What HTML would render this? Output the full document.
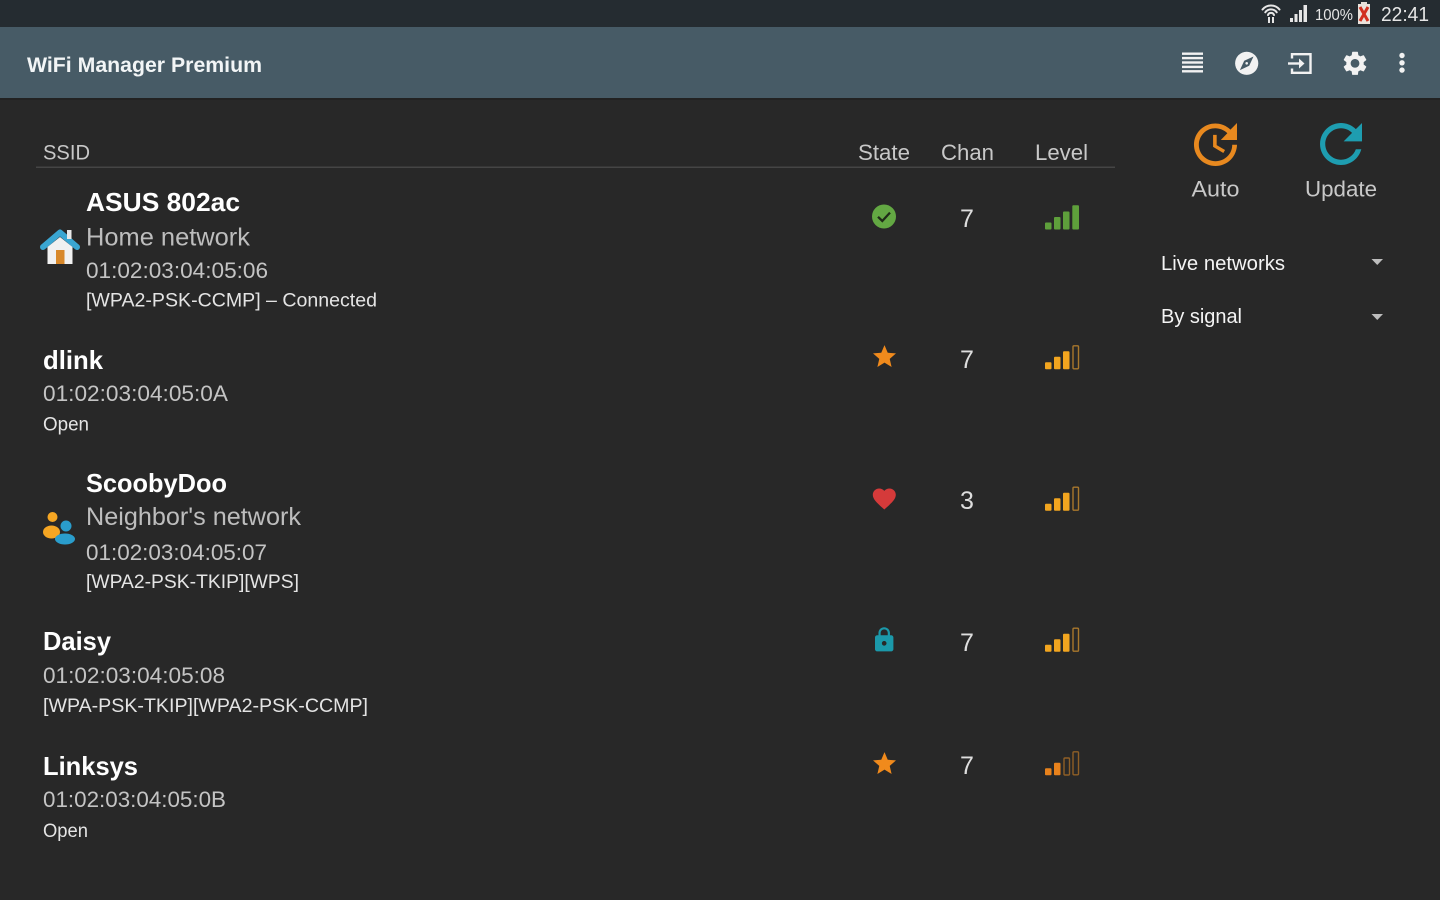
<!DOCTYPE html>
<html><head><meta charset="utf-8"><style>
html,body{margin:0;padding:0;background:#282828;width:1440px;height:900px;overflow:hidden}
svg{display:block}
text{font-family:"Liberation Sans",Arial,sans-serif}
</style></head><body>
<svg width="1440" height="900" viewBox="0 0 1440 900" xmlns="http://www.w3.org/2000/svg">
<rect x="0" y="0" width="1440" height="900" fill="#282828"/>
<!-- status bar -->
<rect x="0" y="0" width="1440" height="27" fill="#252c31"/>
<!-- app bar -->
<rect x="0" y="27" width="1440" height="71" fill="#475b66"/>
<rect x="0" y="98" width="1440" height="2" fill="#222"/>

<!-- status icons -->
<g fill="none" stroke="#e6e6e6" stroke-width="2" stroke-linecap="round">
<path d="M1262.5,9.5 A11,11 0 0 1 1279.5,9.5"/>
<path d="M1265.3,12.3 A7,7 0 0 1 1276.7,12.3"/>
<path d="M1268,15 A3.2,3.2 0 0 1 1274,15"/>
</g>
<rect x="1268" y="17" width="2" height="6" fill="#e6e6e6"/>
<rect x="1272" y="17" width="2" height="6" fill="#e6e6e6"/>
<g fill="#e6e6e6">
<rect x="1290" y="18" width="3" height="4"/>
<rect x="1294.5" y="14" width="3" height="8"/>
<rect x="1299" y="10" width="3" height="12"/>
<rect x="1303.5" y="5" width="3.5" height="17"/>
</g>
<text x="1315" y="20" font-size="16" fill="#e6e6e6" textLength="38" lengthAdjust="spacingAndGlyphs">100%</text>
<rect x="1361" y="2" width="6" height="2" fill="#e8e0d8"/>
<rect x="1358" y="4" width="12" height="20" fill="#ebe3dc"/>
<path d="M1360,7 L1368,21 M1368,7 L1360,21" stroke="#d2301f" stroke-width="3"/>
<text x="1381" y="21" font-size="20" fill="#e6e6e6" textLength="48" lengthAdjust="spacingAndGlyphs">22:41</text>

<!-- title -->
<text x="27" y="72" font-size="21" font-weight="bold" fill="#f2f5f6" textLength="235" lengthAdjust="spacingAndGlyphs">WiFi Manager Premium</text>

<!-- app bar icons -->
<g fill="#f2f2f2">
<rect x="1182" y="52.5" width="21" height="2.4"/>
<rect x="1182" y="56.9" width="21" height="2.4"/>
<rect x="1182" y="61.3" width="21" height="2.4"/>
<rect x="1182" y="65.7" width="21" height="2.4"/>
<rect x="1182" y="70.1" width="21" height="2.4"/>
</g>
<circle cx="1246.7" cy="63.3" r="11.6" fill="#f2f2f2"/>
<polygon points="1253.5,56.5 1249.2,65.8 1239.9,70.1 1244.2,60.8" fill="#475b66"/>
<circle cx="1246.7" cy="63.3" r="1.3" fill="#f2f2f2"/>
<g fill="none" stroke="#f2f2f2" stroke-width="2.4">
<path d="M1292,58.5 V54.2 H1310.5 V72.8 H1292 V68.5"/>
<path d="M1288,63.5 H1302"/>
</g>
<polygon points="1299,58.5 1304.5,63.5 1299,68.5" fill="#f2f2f2"/>
<path transform="translate(1340.5,48.8) scale(1.21)" fill="#f2f2f2" fill-rule="evenodd" d="M19.14 12.94c.04-.3.06-.61.06-.94 0-.32-.02-.64-.07-.94l2.03-1.58c.18-.14.23-.41.12-.61l-1.92-3.32c-.12-.22-.37-.29-.59-.22l-2.39.96c-.5-.38-1.03-.7-1.62-.94l-.36-2.54c-.04-.24-.24-.41-.48-.41h-3.84c-.24 0-.43.17-.47.41l-.36 2.54c-.59.24-1.130.57-1.62.94l-2.39-.96c-.22-.08-.47 0-.59.22L2.74 8.87c-.12.21-.08.47.12.61l2.03 1.58c-.05.3-.09.63-.09.94s.02.64.07.94l-2.030 1.58c-.18.14-.23.41-.12.61l1.92 3.32c.12.22.37.29.59.22l2.39-.96c.5.38 1.03.7 1.62.94l.36 2.54c.05.24.24.41.48.41h3.84c.24 0 .44-.17.47-.41l.36-2.54c.59-.24 1.13-.56 1.62-.94l2.39.96c.22.08.47 0 .59-.22l1.92-3.32c.12-.22.07-.47-.12-.61l-2.01-1.58zM12 15.6c-1.98 0-3.6-1.62-3.6-3.6s1.62-3.6 3.6-3.6 3.6 1.62 3.6 3.6-1.62 3.6-3.6 3.6z"/>
<circle cx="1402" cy="55.5" r="2.7" fill="#f2f2f2"/>
<circle cx="1402" cy="62.8" r="2.7" fill="#f2f2f2"/>
<circle cx="1402" cy="70.1" r="2.7" fill="#f2f2f2"/>

<!-- headers -->
<text x="43" y="159.5" font-size="21" fill="#c8c8c8" textLength="47" lengthAdjust="spacingAndGlyphs">SSID</text>
<text x="858" y="160" font-size="22" fill="#c8c8c8" textLength="52" lengthAdjust="spacingAndGlyphs">State</text>
<text x="941" y="160" font-size="22" fill="#c8c8c8" textLength="53" lengthAdjust="spacingAndGlyphs">Chan</text>
<text x="1035" y="160" font-size="22" fill="#c8c8c8" textLength="53" lengthAdjust="spacingAndGlyphs">Level</text>
<rect x="36" y="166.5" width="1079" height="1.5" fill="#454545"/>

<!-- Row 1 -->
<path d="M43,247 L60,232.5 L77,247" fill="none" stroke="#3aa6d2" stroke-width="6" stroke-linejoin="round" stroke-linecap="round"/>
<rect x="67" y="230" width="4.5" height="9" fill="#e8e8e8"/>
<polygon points="47.5,247 60,237 72.5,247 72.5,264 47.5,264" fill="#f1f1f1"/>
<rect x="56" y="250" width="8.5" height="14" fill="#d8882a"/>
<text x="86" y="211" font-size="26" font-weight="bold" fill="#ffffff" textLength="154" lengthAdjust="spacingAndGlyphs">ASUS 802ac</text>
<text x="86" y="245.5" font-size="25" fill="#bdbdbd" textLength="164" lengthAdjust="spacingAndGlyphs">Home network</text>
<text x="86" y="278" font-size="22.5" fill="#c4c4c4" textLength="182" lengthAdjust="spacingAndGlyphs">01:02:03:04:05:06</text>
<text x="86" y="306.5" font-size="19.5" fill="#e4e4e4" textLength="291" lengthAdjust="spacingAndGlyphs">[WPA2-PSK-CCMP] – Connected</text>
<circle cx="884" cy="216.5" r="12" fill="#63a843"/>
<polyline points="878,216.8 882.3,221 890,212.6" fill="none" stroke="#1f2c18" stroke-width="2.3"/>
<text x="967" y="227" font-size="25" fill="#dedede" text-anchor="middle">7</text>
<g fill="#5e9f3b">
<rect x="1045" y="222.5" width="6.5" height="7" rx="1"/>
<rect x="1054" y="217" width="6.5" height="12.5" rx="1"/>
<rect x="1063" y="211.5" width="6.5" height="18" rx="1"/>
<rect x="1072.3" y="205.3" width="6.7" height="24.2" rx="1"/>
</g>

<!-- Row 2 -->
<text x="43" y="369" font-size="26" font-weight="bold" fill="#ffffff" textLength="60" lengthAdjust="spacingAndGlyphs">dlink</text>
<text x="43" y="401" font-size="22.5" fill="#c4c4c4" textLength="185" lengthAdjust="spacingAndGlyphs">01:02:03:04:05:0A</text>
<text x="43" y="430.5" font-size="19.5" fill="#e4e4e4" textLength="46" lengthAdjust="spacingAndGlyphs">Open</text>
<path transform="translate(870.7,342.8) scale(1.15)" fill="#f08a1c" d="M12 17.27L18.18 21l-1.64-7.03L22 9.24l-7.19-.61L12 2 9.19 8.630 2 9.24l5.46 4.73L5.82 21z"/>
<text x="967" y="368" font-size="25" fill="#dedede" text-anchor="middle">7</text>
<g fill="#f2a51f">
<rect x="1045" y="362.3" width="6.5" height="7" rx="1"/>
<rect x="1054" y="356.8" width="6.5" height="12.5" rx="1"/>
<rect x="1063" y="351.3" width="6.5" height="18" rx="1"/>
</g>
<rect x="1073" y="345.8" width="5.5" height="23" rx="1" fill="none" stroke="#a8772c" stroke-width="1.4"/>

<!-- Row 3 -->
<circle cx="52.5" cy="517" r="5" fill="#f5a623"/>
<ellipse cx="51.5" cy="532" rx="8.5" ry="6.5" fill="#f5a623"/>
<circle cx="66" cy="526" r="5.5" fill="#2a9dcc"/>
<ellipse cx="65" cy="539" rx="10" ry="5.5" fill="#2a9dcc"/>
<text x="86" y="492" font-size="26" font-weight="bold" fill="#ffffff" textLength="141" lengthAdjust="spacingAndGlyphs">ScoobyDoo</text>
<text x="86" y="525" font-size="25" fill="#bdbdbd" textLength="215" lengthAdjust="spacingAndGlyphs">Neighbor's network</text>
<text x="86" y="560" font-size="22.5" fill="#c4c4c4" textLength="181" lengthAdjust="spacingAndGlyphs">01:02:03:04:05:07</text>
<text x="86" y="588" font-size="19.5" fill="#e4e4e4" textLength="213" lengthAdjust="spacingAndGlyphs">[WPA2-PSK-TKIP][WPS]</text>
<path transform="translate(870.5,485) scale(1.15)" fill="#d53a3a" d="M12 21.35l-1.45-1.32C5.4 15.36 2 12.28 2 8.5 2 5.42 4.42 3 7.5 3c1.74 0 3.41.81 4.5 2.090C13.09 3.81 14.76 3 16.5 3 19.58 3 22 5.42 22 8.5c0 3.78-3.4 6.86-8.55 11.54L12 21.35z"/>
<text x="967" y="509" font-size="25" fill="#dedede" text-anchor="middle">3</text>
<g fill="#f2a51f">
<rect x="1045" y="503.7" width="6.5" height="7" rx="1"/>
<rect x="1054" y="498.2" width="6.5" height="12.5" rx="1"/>
<rect x="1063" y="492.7" width="6.5" height="18" rx="1"/>
</g>
<rect x="1073" y="487.2" width="5.5" height="23" rx="1" fill="none" stroke="#a8772c" stroke-width="1.4"/>

<!-- Row 4 -->
<text x="43" y="650" font-size="26" font-weight="bold" fill="#ffffff" textLength="68" lengthAdjust="spacingAndGlyphs">Daisy</text>
<text x="43" y="683" font-size="22.5" fill="#c4c4c4" textLength="182" lengthAdjust="spacingAndGlyphs">01:02:03:04:05:08</text>
<text x="43" y="712" font-size="19.5" fill="#e4e4e4" textLength="325" lengthAdjust="spacingAndGlyphs">[WPA-PSK-TKIP][WPA2-PSK-CCMP]</text>
<path transform="translate(870.4,626.1) scale(1.15)" fill="#1b99aa" fill-rule="evenodd" d="M18 8h-1V6c0-2.76-2.24-5-5-5S7 3.24 7 6v2H6c-1.1 0-2 .9-2 2v10c0 1.1.9 2 2 2h12c1.1 0 2-.9 2-2V10c0-1.1-.9-2-2-2zm-6 9c-1.1 0-2-.9-2-2s.9-2 2-2 2 .9 2 2-.9 2-2 2zm3.1-9H8.9V6c0-1.71 1.39-3.1 3.1-3.1 1.71 0 3.1 1.39 3.1 3.1v2z"/>
<text x="967" y="651" font-size="25" fill="#dedede" text-anchor="middle">7</text>
<g fill="#f2a51f">
<rect x="1045" y="644.7" width="6.5" height="7" rx="1"/>
<rect x="1054" y="639.2" width="6.5" height="12.5" rx="1"/>
<rect x="1063" y="633.7" width="6.5" height="18" rx="1"/>
</g>
<rect x="1073" y="628.2" width="5.5" height="23" rx="1" fill="none" stroke="#a8772c" stroke-width="1.4"/>

<!-- Row 5 -->
<text x="43" y="775" font-size="26" font-weight="bold" fill="#ffffff" textLength="95" lengthAdjust="spacingAndGlyphs">Linksys</text>
<text x="43" y="807" font-size="22.5" fill="#c4c4c4" textLength="183" lengthAdjust="spacingAndGlyphs">01:02:03:04:05:0B</text>
<text x="43" y="837" font-size="19.5" fill="#e4e4e4" textLength="45" lengthAdjust="spacingAndGlyphs">Open</text>
<path transform="translate(870.7,749.8) scale(1.15)" fill="#f08a1c" d="M12 17.27L18.18 21l-1.64-7.03L22 9.24l-7.19-.61L12 2 9.19 8.63 2 9.24l5.46 4.73L5.82 21z"/>
<text x="967" y="774" font-size="25" fill="#dedede" text-anchor="middle">7</text>
<g fill="#e8821c">
<rect x="1045" y="768.3" width="6.5" height="7" rx="1"/>
<rect x="1054" y="762.8" width="6.5" height="12.5" rx="1"/>
</g>
<rect x="1064" y="758" width="5.5" height="17" rx="1" fill="none" stroke="#8f5f26" stroke-width="1.4"/>
<rect x="1073" y="751.8" width="5.5" height="23" rx="1" fill="none" stroke="#8f5f26" stroke-width="1.4"/>

<!-- right panel -->
<path transform="translate(1186.8,115.8) scale(2.39)" fill="#e8891f" d="M21 10.12h-6.78l2.74-2.82c-2.73-2.7-7.15-2.8-9.88-.1-2.73 2.71-2.73 7.08 0 9.79s7.15 2.71 9.88 0C18.32 15.65 19 14.08 19 12.1h2c0 1.98-.88 4.55-2.64 6.29-3.51 3.48-9.21 3.48-12.72 0-3.5-3.47-3.53-9.11-.02-12.58s9.14-3.47 12.65 0L21 3v7.12zM12.5 8v4.25l3.5 2.08-.72 1.21L11 13V8h1.5z"/>
<path transform="translate(1309.5,112.5) scale(2.625)" fill="#1e9db0" d="M17.65 6.35C16.2 4.9 14.21 4 12 4c-4.42 0-7.99 3.58-7.99 8s3.57 8 7.99 8c3.73 0 6.84-2.55 7.73-6h-2.08c-.82 2.33-3.04 4-5.650 4-3.31 0-6-2.69-6-6s2.69-6 6-6c1.66 0 3.14.69 4.22 1.78L13 11h7V4l-2.35 2.35z"/>
<text x="1191.5" y="196.5" font-size="22.5" fill="#c8c8c8" textLength="48" lengthAdjust="spacingAndGlyphs">Auto</text>
<text x="1305" y="196.5" font-size="22.5" fill="#c8c8c8" textLength="72" lengthAdjust="spacingAndGlyphs">Update</text>
<text x="1161" y="270" font-size="20" fill="#f4f4f4" textLength="124" lengthAdjust="spacingAndGlyphs">Live networks</text>
<polygon points="1371.5,259 1383,259 1377.25,265" fill="#bdbdbd"/>
<text x="1161" y="323" font-size="20" fill="#f4f4f4" textLength="81" lengthAdjust="spacingAndGlyphs">By signal</text>
<polygon points="1371.5,314 1383,314 1377.25,320" fill="#bdbdbd"/>
</svg>
</body></html>
